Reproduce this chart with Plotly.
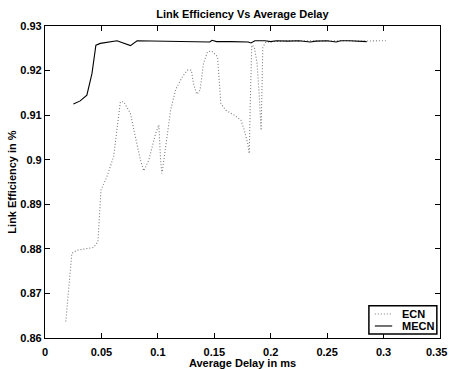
import plotly.graph_objects as go

ecn_x = [0.0184, 0.0208, 0.0238, 0.0282, 0.035, 0.043, 0.0469, 0.048, 0.0496, 0.0549, 0.0608,
         0.0644, 0.0668, 0.0697, 0.0757, 0.0801, 0.0846, 0.0875, 0.092, 0.098, 0.1009, 0.1024,
         0.1036, 0.1053, 0.1083, 0.1113, 0.1158, 0.1217, 0.1262, 0.1297, 0.1315, 0.1345, 0.1374,
         0.1404, 0.144, 0.1476, 0.1529, 0.1543, 0.1558, 0.1603, 0.1677, 0.1736, 0.1766, 0.1796,
         0.181, 0.1819, 0.1832, 0.1855, 0.1879, 0.1899, 0.1915, 0.1923, 0.193, 0.1959, 0.205,
         0.215, 0.225, 0.235, 0.245, 0.255, 0.265, 0.275, 0.285, 0.295, 0.302]
ecn_y = [0.8637, 0.870, 0.879, 0.8797, 0.8800, 0.8803, 0.8816, 0.8872, 0.8932, 0.8962, 0.9007,
         0.9081, 0.9130, 0.9130, 0.9104, 0.9051, 0.8999, 0.8975, 0.8999, 0.9059, 0.9078, 0.8999,
         0.8969, 0.8999, 0.9051, 0.9111, 0.9158, 0.9186, 0.9201, 0.9201, 0.9171, 0.9147, 0.9156,
         0.9216, 0.9242, 0.9244, 0.9231, 0.9178, 0.9126, 0.9111, 0.9100, 0.9089, 0.9066, 0.9037,
         0.9014, 0.9126, 0.9257, 0.9253, 0.9216, 0.9141, 0.9066, 0.9163, 0.9253, 0.9264, 0.9266,
         0.9267, 0.9266, 0.9267, 0.9266, 0.9267, 0.9267, 0.9266, 0.9267, 0.9267, 0.9267]

mecn_x = [0.0252, 0.0312, 0.0371, 0.0416, 0.0451, 0.049, 0.0638, 0.0712, 0.0757, 0.0816, 0.10,
          0.12, 0.14, 0.146, 0.148, 0.152, 0.165, 0.18, 0.1825, 0.186, 0.195, 0.2, 0.205, 0.215,
          0.225, 0.235, 0.24, 0.25, 0.258, 0.262, 0.27, 0.28, 0.285]
mecn_y = [0.9125, 0.9132, 0.9145, 0.9193, 0.9257, 0.9261, 0.9267, 0.9261, 0.9256, 0.9267, 0.9266,
          0.9266, 0.9265, 0.9264, 0.9268, 0.9265, 0.9265, 0.9264, 0.9262, 0.9267, 0.9267, 0.9265,
          0.9267, 0.9266, 0.9267, 0.9264, 0.9266, 0.9267, 0.9264, 0.9267, 0.9267, 0.9266, 0.9265]

series_names = ["ECN", "MECN"]
x_ticks = [0, 0.05, 0.1, 0.15, 0.2, 0.25, 0.3, 0.35]
y_ticks = [0.86, 0.87, 0.88, 0.89, 0.9, 0.91, 0.92, 0.93]

FONT = "Liberation Sans"
TICKFONT = dict(family=FONT, size=11, color="black", weight="bold")
ECN_LINE = dict(color="#7a7a7a", width=1.1, dash="1px,2px")
MECN_LINE = dict(color="black", width=1.1)

fig = go.Figure()
fig.add_trace(go.Scatter(x=ecn_x, y=ecn_y, mode="lines", name=series_names[0], line=ECN_LINE))
fig.add_trace(go.Scatter(x=mecn_x, y=mecn_y, mode="lines", name=series_names[1], line=MECN_LINE))

axis_common = dict(showline=True, linecolor="black", linewidth=1.2, mirror="allticks",
                   ticks="inside", ticklen=5, tickcolor="black", showgrid=False, zeroline=False,
                   automargin=False, tickfont=TICKFONT)

# last x tick label sits at the right edge of the page: right-align it so it stays visible
x_ticktext = [str(v) for v in x_ticks[:-1]] + [""]

# Legend box drawn in the MATLAB style (compact, bottom-right)
lx0, lx1, ly0, ly1 = 0.820, 0.992, 0.013, 0.103
line_x0, line_x1, text_x = 0.835, 0.879, 0.899
row_y = [0.077, 0.0385]
shapes = [dict(type="rect", xref="paper", yref="paper", x0=lx0, x1=lx1, y0=ly0, y1=ly1,
               line=dict(color="black", width=1.5), fillcolor="white", layer="above")]
annotations = []
for name, style, yy in zip(series_names, [ECN_LINE, MECN_LINE], row_y):
    shapes.append(dict(type="line", xref="paper", yref="paper", x0=line_x0, x1=line_x1,
                       y0=yy, y1=yy, line=style, layer="above"))
    annotations.append(dict(xref="paper", yref="paper", x=text_x, y=yy, text=name,
                            showarrow=False, xanchor="left", yanchor="middle",
                            font=dict(family=FONT, size=11, color="black", weight="bold")))
annotations.append(dict(xref="paper", yref="paper", x=1.0205, y=0, text=str(x_ticks[-1]),
                        showarrow=False, xanchor="right", yanchor="top", yshift=-7,
                        borderpad=0, font=TICKFONT))

fig.update_layout(
    width=449, height=369,
    margin=dict(l=45, r=9, t=26, b=31),
    paper_bgcolor="white", plot_bgcolor="white",
    title=dict(text="Link Efficiency Vs Average Delay", x=0.54, xanchor="center", y=0.962,
               yanchor="middle", font=dict(family=FONT, size=11, color="black", weight="bold")),
    xaxis=dict(range=[0, 0.35], tickvals=x_ticks, ticktext=x_ticktext,
               ticklabelstandoff=4,
               title=dict(text="Average Delay in ms", standoff=1,
                          font=dict(family=FONT, size=11, color="black", weight="bold")),
               **axis_common),
    yaxis=dict(range=[0.86, 0.93], tickvals=y_ticks, ticktext=[str(v) for v in y_ticks],
               title=dict(text="Link Efficiency in %", standoff=1,
                          font=dict(family=FONT, size=11, color="black", weight="bold")),
               **axis_common),
    shapes=shapes,
    annotations=annotations,
    showlegend=False,
)

fig.write_html("out.html")
